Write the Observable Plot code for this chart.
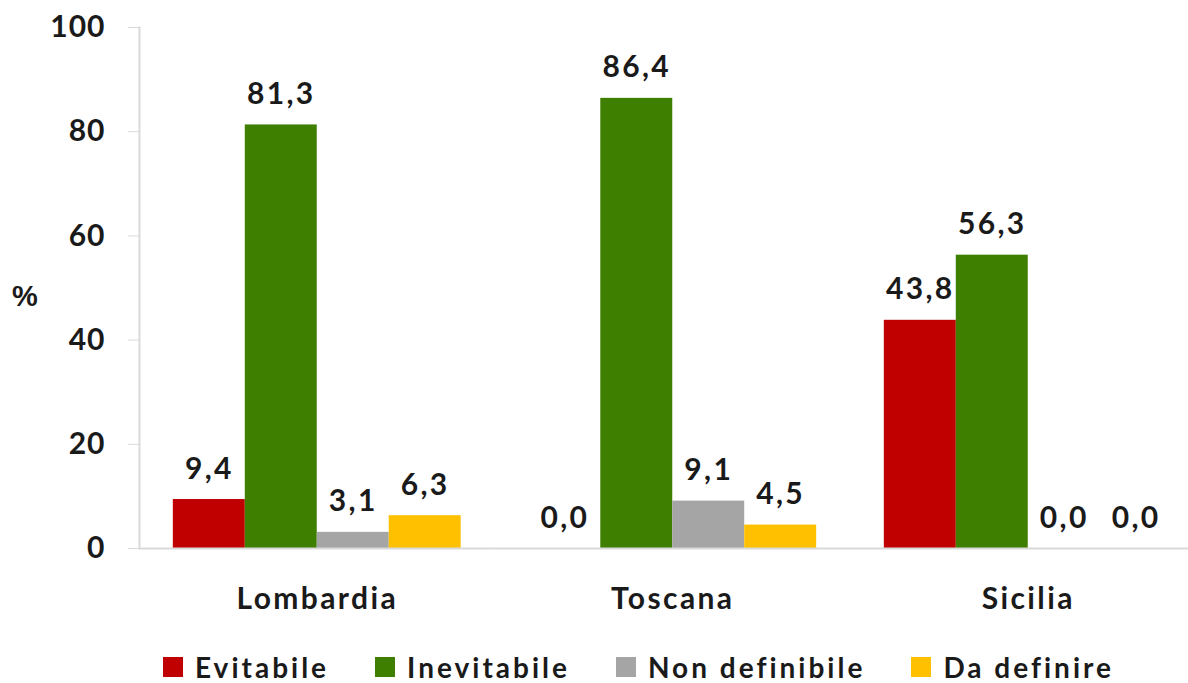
<!DOCTYPE html>
<html>
<head>
<meta charset="utf-8">
<script src="https://cdn.jsdelivr.net/npm/d3@7"></script>
<script src="https://cdn.jsdelivr.net/npm/@observablehq/plot@0.6"></script>
<style>
  body { margin: 0; background: #fff; font-family: Lato, sans-serif; }
  #wrap { position: relative; width: 1188px; height: 683px; overflow: hidden; }
  #pct { position: absolute; left: 12px; top: 280px; font: 700 29px "Liberation Sans", Arial, sans-serif; color: #1a1a1a; }
  #legend { position: absolute; left: 163px; top: 650px; }
  #legend span { margin-right: 46px !important; font-size: 28px; letter-spacing: 3px; }
  #legend svg { margin-right: 12px !important; }
  #chart g[aria-label="text"] text { letter-spacing: 2.3px; }
  #chart g[aria-label="fx-axis tick label"] text { letter-spacing: 2.4px; }
  #chart g[aria-label="y-axis tick label"] text { letter-spacing: 1px; }
</style>
</head>
<body>
<div id="wrap">
  <div id="chart"></div>
  <div id="pct">%</div>
  <div id="legend"></div>
</div>
<script>
// Regions and outcome classes
const regions = ["Lombardia", "Toscana", "Sicilia"];
const categories = ["Evitabile", "Inevitabile", "Non definibile", "Da definire"];

// Percentages per region (Lombardia, Toscana, Sicilia)
const evitabile = [9.4, 0.0, 43.8];
const inevitabile = [81.3, 86.4, 56.3];
const nonDefinibile = [3.1, 9.1, 0.0];
const daDefinire = [6.3, 4.5, 0.0];

const yTicks = [0, 20, 40, 60, 80, 100];
const colors = ["#c00000", "#3f7f00", "#a5a5a5", "#ffc000"];

const series = [evitabile, inevitabile, nonDefinibile, daDefinire];
const rows = regions.flatMap((region, i) =>
  categories.map((category, j) => ({region, category, value: series[j][i]}))
);

const fmt = v => v.toFixed(1).replace(".", ",");
const ink = "#1a1a1a";
const grid = "#d9d9d9";

const chart = Plot.plot({
  width: 1188,
  height: 635,
  marginLeft: 139,
  marginRight: 0,
  marginTop: 27,
  marginBottom: 87,
  style: {fontFamily: "Lato, sans-serif", fontWeight: 700, color: ink, background: "#fff"},
  fx: {domain: regions, range: [139, 1205.5], padding: 0, round: false, label: null},
  x: {domain: categories, paddingInner: 0, paddingOuter: 0.47, round: false, axis: null},
  y: {domain: [0, 100], label: null},
  color: {domain: categories, range: colors},
  marks: [
    Plot.frame({anchor: "left", facetAnchor: "left", stroke: grid, strokeWidth: 2}),
    Plot.axisY({ticks: yTicks, tickSize: 11, tickPadding: 23, stroke: grid, fontSize: 30, fontWeight: 700, label: null}),
    Plot.axisFx({anchor: "bottom", tickSize: 0, tickPadding: 39, fontSize: 30, fontWeight: 700, label: null}),
    Plot.barY(rows, {fx: "region", x: "category", y: "value", fill: "category"}),
    Plot.ruleY([0], {stroke: grid, strokeWidth: 2}),
    Plot.text(rows, {
      fx: "region", x: "category", y: "value",
      text: d => fmt(d.value),
      lineAnchor: "bottom", dy: -21,
      fontSize: 30, fontWeight: 700, fill: ink
    })
  ]
});
document.getElementById("chart").appendChild(chart);

const legend = Plot.legend({
  color: {domain: categories, range: colors},
  legend: "swatches",
  swatchSize: 20,
  style: {fontFamily: "Lato, sans-serif", fontSize: "28px", fontWeight: 700, color: ink}
});
document.getElementById("legend").appendChild(legend);
</script>
</body>
</html>
